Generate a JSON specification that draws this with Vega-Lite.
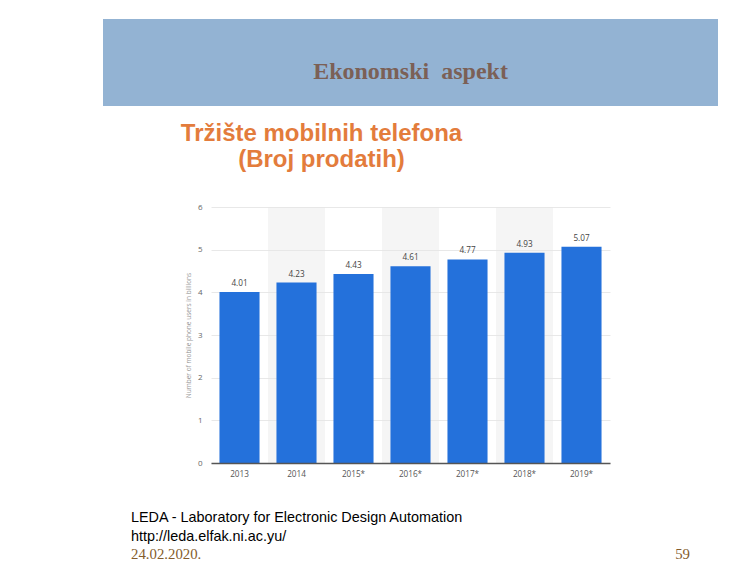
{
  "$schema": "https://vega.github.io/schema/vega-lite/v6.json",
  "background": "white",
  "padding": {"left": 103, "top": 19, "right": 0, "bottom": 0},
  "spacing": 40,
  "center": true,
  "bounds": "flush",
  "config": {"view": {"stroke": null}, "font": "Open Sans"},
  "vconcat": [
    {
      "width": 615,
      "height": 87,
      "view": {"fill": "#93B3D3", "stroke": null},
      "data": {"values": [{"label": "Ekonomski\u00a0 aspekt"}]},
      "mark": {"type": "text", "font": "Liberation Serif", "fontWeight": "bold", "fontSize": 24, "color": "#7B6056", "align": "center", "baseline": "alphabetic", "dy": 16.5},
      "encoding": {"text": {"field": "label"}}
    },
    {
      "width": 399,
      "height": 21,
      "data": {"values": [{"t": "Tržište mobilnih telefona\n(Broj prodatih)"}]},
      "mark": {"type": "text", "font": "Liberation Sans", "fontWeight": "bold", "fontSize": 24, "color": "#E37C3C", "align": "center", "baseline": "alphabetic", "lineBreak": "\n", "lineHeight": 25.5, "dx": -89, "dy": -15.5},
      "encoding": {"text": {"field": "t"}}
    },
    {
      "width": 399,
      "height": 256,
      "data": {"values": [
        {"year": "2013", "value": 4.01},
        {"year": "2014", "value": 4.23},
        {"year": "2015*", "value": 4.43},
        {"year": "2016*", "value": 4.61},
        {"year": "2017*", "value": 4.77},
        {"year": "2018*", "value": 4.93},
        {"year": "2019*", "value": 5.07}
      ]},
      "encoding": {
        "x": {
          "field": "year", "type": "ordinal", "sort": null,
          "scale": {"domain": ["2013", "2014", "2015*", "2016*", "2017*", "2018*", "2019*"], "paddingInner": 0, "paddingOuter": 0},
          "axis": {"title": null, "labelAngle": 0, "ticks": false, "domainColor": "#555555", "domainWidth": 1.5, "labelFontSize": 8.2, "labelColor": "#555555", "labelPadding": 7, "grid": false}
        }
      },
      "layer": [
        {
          "transform": [{"filter": {"field": "year", "oneOf": ["2014", "2016*", "2018*"]}}],
          "mark": {"type": "rect", "color": "#E6E6E6", "opacity": 0.4}
        },
        {
          "mark": {"type": "bar", "color": "#2471DB", "width": {"band": 0.703}},
          "encoding": {
            "y": {
              "field": "value", "type": "quantitative",
              "scale": {"domain": [0, 6], "nice": false},
              "axis": {"title": "Number of mobile phone users in billions", "values": [0, 1, 2, 3, 4, 5, 6], "grid": true, "gridColor": "#E8E8E8", "domain": false, "ticks": false, "labelPadding": 9, "labelFontSize": 8, "labelColor": "#666666", "titleFontSize": 6.5, "titleFontWeight": "normal", "titleColor": "#9A9A9A", "titlePadding": 6}
            }
          }
        },
        {
          "mark": {"type": "text", "baseline": "bottom", "dy": -4, "fontSize": 8.2, "color": "#444444"},
          "encoding": {
            "y": {"field": "value", "type": "quantitative"},
            "text": {"field": "value", "type": "quantitative", "format": ".2f"}
          }
        }
      ]
    },
    {
      "width": 559,
      "height": 75,
      "data": {"values": [
        {"side": "left", "line": 1, "text": "LEDA - Laboratory for Electronic Design Automation"},
        {"side": "left", "line": 2, "text": "http://leda.elfak.ni.ac.yu/"},
        {"side": "left", "line": 3, "text": "24.02.2020."},
        {"side": "right", "line": 3, "text": "59"}
      ]},
      "encoding": {
        "x": {"field": "side", "type": "nominal", "scale": {"type": "point", "domain": ["left", "right"], "padding": 0}, "axis": null},
        "y": {"field": "line", "type": "ordinal", "scale": {"type": "point", "domain": [1, 2, 3], "padding": 1.27}, "axis": null},
        "text": {"field": "text"}
      },
      "layer": [
        {
          "transform": [{"filter": "datum.line < 3"}],
          "mark": {"type": "text", "font": "Liberation Sans", "fontSize": 14.4, "color": "#000000", "align": "left", "baseline": "alphabetic"}
        },
        {
          "transform": [{"filter": "datum.line == 3 && datum.side == 'left'"}],
          "mark": {"type": "text", "font": "Liberation Serif", "fontSize": 14.8, "color": "#845C2C", "align": "left", "baseline": "alphabetic"}
        },
        {
          "transform": [{"filter": "datum.side == 'right'"}],
          "mark": {"type": "text", "font": "Liberation Serif", "fontSize": 14.8, "color": "#845C2C", "align": "right", "baseline": "alphabetic"}
        }
      ]
    }
  ]
}
